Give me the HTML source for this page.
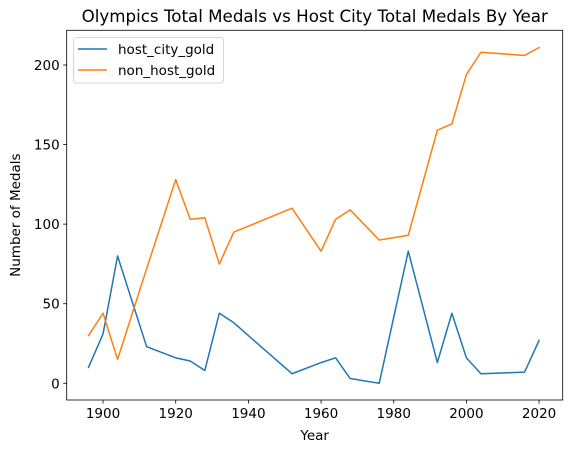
<!DOCTYPE html>
<html><head><meta charset="utf-8"><style>
html,body{margin:0;padding:0;background:#fff;width:571px;height:453px;overflow:hidden}
svg text{font-family:"DejaVu Sans","Liberation Sans",sans-serif;fill:#000}
</style></head><body>
<svg id="chart" width="571" height="453" xmlns="http://www.w3.org/2000/svg"></svg>
<script>
const years=[1896,1900,1904,1912,1920,1924,1928,1932,1936,1952,1960,1964,1968,1976,1984,1992,1996,2000,2004,2016,2020];
const hostGold=[10,31,80,23,16,14,8,44,38,6,13,16,3,0,83,13,44,16,6,7,27];
const nonHostGold=[30,44,15,72,128,103,104,75,95,110,83,103,109,90,93,159,163,194,208,206,211];
const xTicks=[1900,1920,1940,1960,1980,2000,2020];
const yTicks=[0,50,100,150,200];
const L=66.7,R=562.7,T=30.3,B=400;
const xMin=1890.0,xMax=2026.5,yMin=-10.5,yMax=221.8;
const sx=v=>L+(v-xMin)/(xMax-xMin)*(R-L);
const sy=v=>B-(v-yMin)/(yMax-yMin)*(B-T);
const svg=document.getElementById('chart');
const NS='http://www.w3.org/2000/svg';
function mk(tag,attrs,parent){const e=document.createElementNS(NS,tag);for(const k in attrs)e.setAttribute(k,attrs[k]);(parent||svg).appendChild(e);return e;}
function line(vals,color,name){
  const p=mk('polyline',{points:years.map((y,i)=>sx(y).toFixed(2)+','+sy(vals[i]).toFixed(2)).join(' '),fill:'none',stroke:color,'stroke-width':1.5,'stroke-linejoin':'round','stroke-linecap':'square'});
  
  
}
line(hostGold,'#1f77b4','host-city-gold-line');
line(nonHostGold,'#ff7f0e','non-host-gold-line');
const frame=mk('rect',{x:L,y:T,width:R-L,height:B-T,fill:'none',stroke:'#000','stroke-width':0.8});


xTicks.forEach(v=>{
  const x=sx(v);
  const t=mk('line',{x1:x,x2:x,y1:B,y2:B+3.5,stroke:'#000','stroke-width':0.8});
  
  
  const l=mk('text',{x:x,y:B+18,'text-anchor':'middle','font-size':'13.5px'});
  l.textContent=v;
  
  
});
yTicks.forEach(v=>{
  const y=sy(v);
  const t=mk('line',{x1:L-3.5,x2:L,y1:y,y2:y,stroke:'#000','stroke-width':0.8});
  
  
  const l=mk('text',{x:L-7,y:y+5,'text-anchor':'end','font-size':'13.5px'});
  l.textContent=v;
  
  
});
const title=mk('text',{x:(L+R)/2,y:22,'text-anchor':'middle','font-size':'16.7px'});
title.textContent='Olympics Total Medals vs Host City Total Medals By Year';


const xt=mk('text',{x:(L+R)/2,y:440,'text-anchor':'middle','font-size':'13.5px'});
xt.textContent='Year';


const yt=mk('text',{x:0,y:0,'text-anchor':'middle','font-size':'13.5px',transform:'translate(20,'+((T+B)/2)+') rotate(-90)'});
yt.textContent='Number of Medals';


const lg=mk('g',{});


mk('rect',{x:73.5,y:37.5,width:150,height:45.5,rx:2.5,fill:'#fff','fill-opacity':0.8,stroke:'#ccc','stroke-width':0.8},lg);
[['host_city_gold','#1f77b4',49],['non_host_gold','#ff7f0e',70]].forEach(([n,c,y])=>{
  const e=mk('g',{},lg);
  
  
  mk('line',{x1:78,x2:107,y1:y,y2:y,stroke:c,'stroke-width':1.5},e);
  const t=mk('text',{x:118,y:y+5,'font-size':'13.5px'},e);
  t.textContent=n;
});
</script>
</body></html>
